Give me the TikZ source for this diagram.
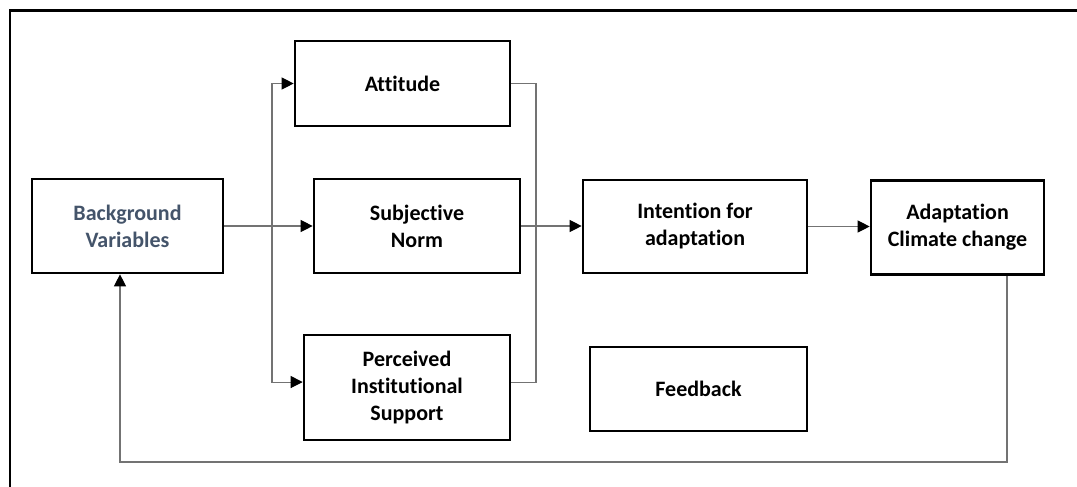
\documentclass[tikz,border=0pt]{standalone}
\usepackage{fontspec}
\setmainfont{Carlito}[Ligatures=CommonOff]
\usepackage{xcolor}
\definecolor{slate}{HTML}{44546A}
\usetikzlibrary{arrows.meta}

\begin{document}
\begin{tikzpicture}[x=0.75pt,y=-0.75pt,
            box/.style = {draw=black,
            line width=2pt,
            align=center,
            inner sep=2pt,
            font=\fontsize{16.5}{20.25}\selectfont\bfseries},
            line/.style = {draw=black!55,
            line width=0.8pt},
            link/.style = {line,
            -{Triangle[length=9pt,width=9pt,color=black]}}]
        % Frame
        \clip (0,0) rectangle (1077,486);
        \draw[line width=2.2pt] (10,10.5) rectangle (1110,520);

        % Background variables
        \node[box,minimum width=143.25pt,minimum height=70.5pt,text=slate] (BV) at (127.5,226) {Background\\Variables};

        % Attitude, norm and support
        \node[box,minimum width=161.25pt,minimum height=63.75pt] (Att) at (402.5,83.5) {Attitude};
        \node[box,minimum width=154.5pt,minimum height=70.5pt] (SN) at (417,226) {Subjective\\Norm};
        \node[box,minimum width=154.5pt,minimum height=78.75pt] (PIS) at (407,387.5) {Perceived\\Institutional\\Support};

        % Intention and adaptation
        \node[box,minimum width=168pt,minimum height=69.75pt] (Int) at (695,226.5) {Intention for\\adaptation};
        \node[box,minimum width=129.75pt,minimum height=70.5pt] (Ad) at (957.5,227.5) {Adaptation\\Climate change};
        \node[box,minimum width=162.75pt,minimum height=63pt] (Fb) at (698.5,389) {Feedback};

        % Branch points
        \coordinate (split) at (272,226);
        \coordinate (merge) at (536,226);
        \coordinate (loopR) at (1007,462);
        \coordinate (loopL) at (120,462);

        % Connectors
        \draw[link] (BV.east) -- (SN.west);
        \draw[link] (split) |- (Att.west);
        \draw[link] (split) |- (PIS.177);
        \draw[line] (Att.east) -| (merge) |- (PIS.3);
        \draw[link] (SN.east) -- (SN.east -| Int.west);
        \draw[link] (Int.east) -- (Int.east -| Ad.west);

        % Feedback loop
        \draw[link] (Ad.south -| loopR) -- (loopR) -- (loopL) -- (loopL |- BV.south);
    \end{tikzpicture}
\end{document}
